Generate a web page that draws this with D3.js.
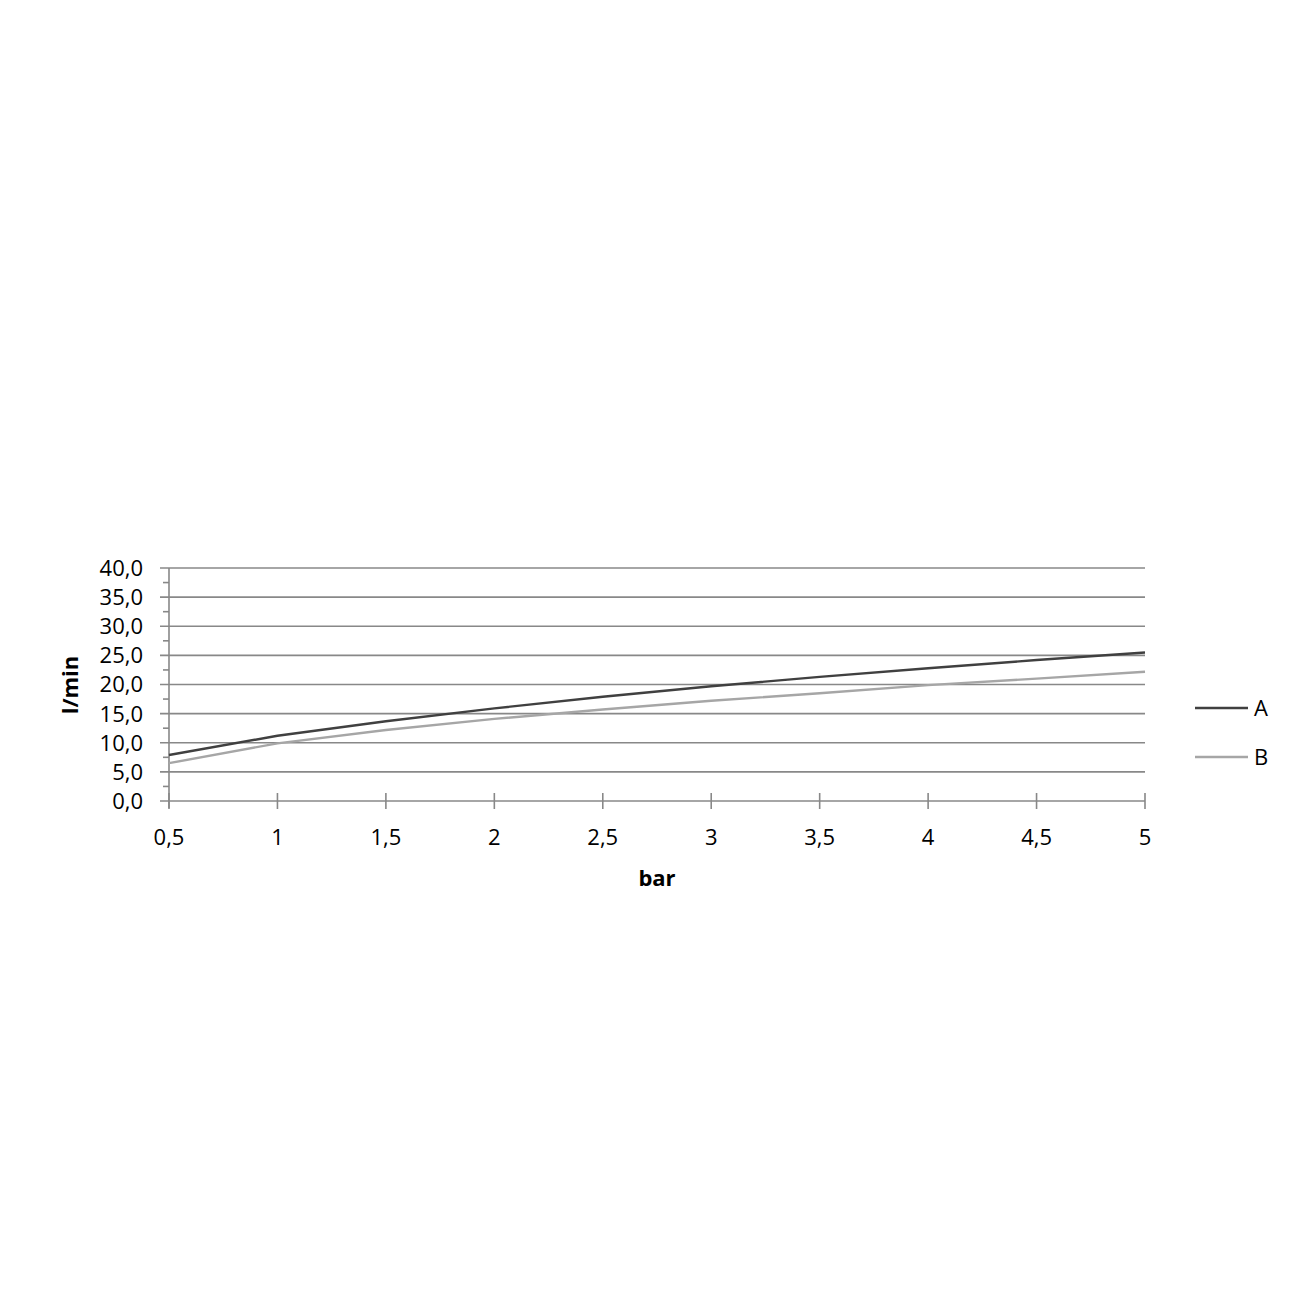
<!DOCTYPE html>
<html><head><meta charset="utf-8">
<script src="https://cdn.jsdelivr.net/npm/d3@7"></script>
<style>body{margin:0;background:#fff}svg{display:block}text{font-family:"Open Sans",sans-serif}</style>
</head><body>
<svg id="c" width="1298" height="1298"></svg>
<script>
const xValues = [0.5, 1, 1.5, 2, 2.5, 3, 3.5, 4, 4.5, 5];
const seriesA = [7.9, 11.2, 13.7, 15.9, 17.9, 19.7, 21.3, 22.8, 24.2, 25.5];
const seriesB = [6.5, 9.9, 12.2, 14.1, 15.7, 17.2, 18.5, 19.9, 21.0, 22.2];
const seriesNames = ["A", "B"];
const seriesColors = ["#404040", "#a6a6a6"];
const yTicks = [0, 5, 10, 15, 20, 25, 30, 35, 40];
const yMinorTicks = [2.5, 7.5, 12.5, 17.5, 22.5, 27.5, 32.5, 37.5];
const xTicks = [0.5, 1, 1.5, 2, 2.5, 3, 3.5, 4, 4.5, 5];

const svg = d3.select("#c");
const x = d3.scaleLinear().domain([0.5, 5]).range([169, 1145]);
const y = d3.scaleLinear().domain([0, 40]).range([801, 568]);
const fmtY = d => d.toFixed(1).replace(".", ",");
const fmtX = d => String(d).replace(".", ",");
const grid = "#888888";

svg.append("g").selectAll("line").data(yTicks).join("line")
  .attr("x1", 160).attr("x2", 1145)
  .attr("y1", d => y(d)).attr("y2", d => y(d))
  .attr("stroke", grid).attr("stroke-width", 1.6);
svg.append("g").selectAll("line").data(yMinorTicks).join("line")
  .attr("x1", 163).attr("x2", 169)
  .attr("y1", d => y(d)).attr("y2", d => y(d))
  .attr("stroke", grid).attr("stroke-width", 1.6);
svg.append("line").attr("x1", 169).attr("x2", 169).attr("y1", y(40)).attr("y2", 808)
  .attr("stroke", grid).attr("stroke-width", 1.6);
svg.append("g").selectAll("line").data(xTicks).join("line")
  .attr("x1", d => x(d)).attr("x2", d => x(d))
  .attr("y1", 793).attr("y2", 809)
  .attr("stroke", grid).attr("stroke-width", 1.6);

svg.append("g").selectAll("text").data(yTicks).join("text")
  .attr("x", 143).attr("y", d => y(d)).attr("dy", "0.36em")
  .attr("text-anchor", "end").attr("font-size", 22).attr("fill", "#000")
  .text(fmtY);
svg.append("g").selectAll("text").data(xTicks).join("text")
  .attr("x", d => x(d)).attr("y", 837).attr("dy", "0.36em")
  .attr("text-anchor", "middle").attr("font-size", 22).attr("fill", "#000")
  .text(fmtX);

svg.append("text").attr("x", 657).attr("y", 878).attr("dy", "0.36em")
  .attr("text-anchor", "middle").attr("font-size", 22).attr("font-weight", "bold").text("bar");
svg.append("text").attr("transform", "translate(70,685) rotate(-90)").attr("dy", "0.36em")
  .attr("text-anchor", "middle").attr("font-size", 22).attr("font-weight", "bold").text("l/min");

const line = d3.line().x((d, i) => x(xValues[i])).y(d => y(d));
[seriesA, seriesB].forEach((s, i) => {
  svg.append("path").datum(s).attr("d", line).attr("fill", "none")
    .attr("stroke", seriesColors[i]).attr("stroke-width", 2.4);
});

seriesNames.forEach((n, i) => {
  const ly = 708 + i * 49;
  svg.append("line").attr("x1", 1195).attr("x2", 1248).attr("y1", ly).attr("y2", ly)
    .attr("stroke", seriesColors[i]).attr("stroke-width", 2.4);
  svg.append("text").attr("x", 1254).attr("y", ly).attr("dy", "0.36em")
    .attr("font-size", 22).attr("fill", "#000").text(n);
});
</script>
</body></html>
